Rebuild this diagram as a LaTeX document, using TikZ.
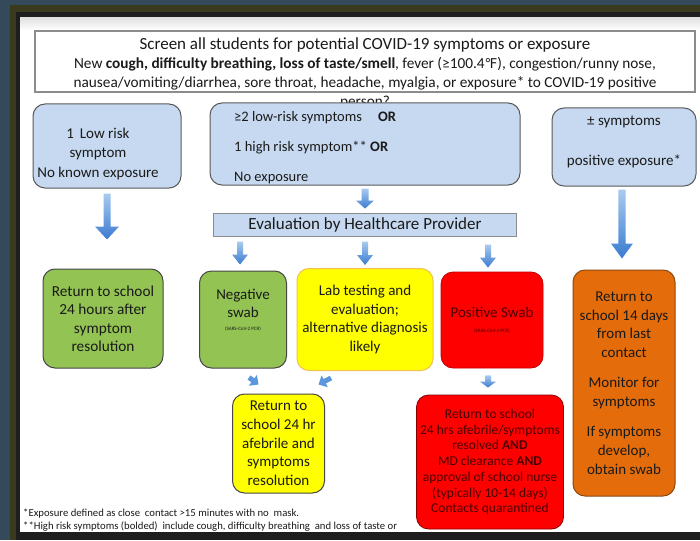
\documentclass[tikz,border=0pt]{standalone}
\usepackage{fontspec}
\setmainfont{Carlito}
\newfontfamily\dejavu{DejaVu Sans}
\usetikzlibrary{calc,arrows.meta}
\definecolor{slate}{HTML}{34495A}
\definecolor{olivef}{HTML}{3A3A1E}
\definecolor{blackf}{HTML}{1E1E1E}
\definecolor{lblue}{HTML}{C6D9F0}
\definecolor{bgray}{HTML}{595959}
\definecolor{tgray}{HTML}{8C8C8C}
\definecolor{gfill}{HTML}{92C353}
\definecolor{yfill}{HTML}{FFFF00}
\definecolor{ybord}{HTML}{F2C14E}
\definecolor{rfill}{HTML}{FF0000}
\definecolor{rbord}{HTML}{C00000}
\definecolor{rtext}{HTML}{4A0000}
\definecolor{ofill}{HTML}{E46C0A}
\definecolor{obord}{HTML}{8A4A12}
\definecolor{abtop}{HTML}{A9CBF0}
\definecolor{abbot}{HTML}{3A7BD0}
\definecolor{abmid}{HTML}{5B96DE}
\definecolor{txt}{HTML}{1A1A1A}
\newcommand\fsz[2]{\fontsize{#1}{#2}\selectfont}
% vertical block arrow: start, tip, shaft half width, head half width, head length
\newcommand\varrow[5]{\shade[top color=abtop,bottom color=abbot] let \p1=#1, \p2=#2 in
  (\x1-#3,\y1) -- (\x1+#3,\y1) -- (\x1+#3,\y2+#5) -- (\x1+#4,\y2+#5) -- (\x1,\y2)
  -- (\x1-#4,\y2+#5) -- (\x1-#3,\y2+#5) -- cycle;}
\begin{document}
\begin{tikzpicture}[x=1pt,y=-1pt,
  every node/.style={text=txt},
  bluebox/.style={draw=bgray, line width=1pt, fill=lblue, rounded corners=12pt, inner sep=0pt},
  greenbox/.style={draw=bgray!80!black, line width=1pt, fill=gfill, rounded corners=12pt, inner sep=0pt, align=center},
  yellowbox/.style={draw=ybord, line width=1pt, fill=yfill, rounded corners=12pt, inner sep=0pt, align=center},
  redbox/.style={draw=rbord, line width=0.8pt, fill=rfill, rounded corners=12pt, inner sep=0pt, align=center},
  orangebox/.style={draw=obord, line width=1pt, fill=ofill, rounded corners=12pt, inner sep=0pt, align=center},
  smallarrow/.style={line width=5pt, draw=abmid, -{Triangle[width=13pt,length=7pt]}, shorten >=0pt}]
% frame and background
\useasboundingbox (0,0) rectangle (700,540);
\fill[slate] (0,0) rectangle (700,540);
\fill[olivef] (10,5) rectangle (700,540);
\fill[blackf] (16,12) rectangle (700,540);
\fill[white] (20,18) rectangle (700,532);
\shade[top color=black!12, bottom color=white] (20,18) rectangle (700,30);
% top box
\node[draw=tgray, line width=1.5pt, minimum width=660pt, minimum height=61pt, inner sep=0pt] (top) at (365,61.5) {};
\node[align=center, inner sep=0pt, anchor=north, font=\fsz{15.3}{19.3}] (toptext) at (365,37)
 {{\fsz{17}{19.3}Screen all students for potential COVID-19 symptoms or exposure}\\
  New \textbf{cough, difficulty breathing, loss of taste/smell}, fever (≥100.4{\dejavu\fsz{13.5}{19}℉}), congestion/runny nose,\\
  nausea/vomiting/diarrhea, sore throat, headache, myalgia, or exposure* to COVID-19 positive\\
  person?};
% row 2
\node[bluebox, minimum width=148pt, minimum height=84pt] (A) at (107,146) {};
\node[align=center, inner sep=0pt, font=\fsz{15}{19.5}] (At) at (98,154) {1\, Low risk\\symptom\\No known exposure};
\node[bluebox, minimum width=310pt, minimum height=82pt] (B) at (365,144) {};
\node[align=left, inner sep=0pt, anchor=west, font=\fsz{14.5}{30}] (Bt) at (234,147.5)
 {≥2 low-risk symptoms\hspace{1.1em}\textbf{OR}\\1 high risk symptom** \textbf{OR}\\No exposure};
\node[bluebox, minimum width=144pt, minimum height=78pt] (C) at (624,147) {};
\node[align=center, inner sep=0pt, font=\fsz{15}{40}] (Ct) at (624,142) {± symptoms\\positive exposure*};
% evaluation
\node[draw=tgray, line width=1pt, fill=lblue, minimum width=303pt, minimum height=23pt, inner sep=0pt, font=\fsz{17}{18}] (E) at (365,224.5)
 {Evaluation by Healthcare Provider};
% row 3
\node[greenbox, minimum width=120pt, minimum height=99pt, font=\fsz{15.3}{18.5}] (G1) at (103,318.5)
 {Return to school\\24 hours after\\symptom\\resolution};
\node[greenbox, minimum width=87pt, minimum height=97pt] (G2) at (243,319.5) {};
\node[align=center, inner sep=0pt, font=\fsz{15}{18}] (G2t) at (243,310)
 {Negative\\swab\\[-5pt]{\fsz{5}{6}(SARS-CoV-2 PCR)}};
\node[yellowbox, minimum width=136pt, minimum height=102pt, font=\fsz{15}{18.5}] (Y1) at (365,319.5)
 {Lab testing and\\evaluation;\\alternative diagnosis\\likely};
\node[redbox, minimum width=102pt, minimum height=96pt, font=\fsz{15}{15}, text=rtext] (R1) at (492,320)
 {Positive Swab\\{\fsz{5}{6}(SARS-CoV-2 PCR)}};
\node[orangebox, minimum width=102pt, minimum height=226pt, font=\fsz{15}{18.7}] (O) at (624,383)
 {Return to\\school 14 days\\from last\\contact\\[11.5pt]Monitor for\\symptoms\\[11.5pt]If symptoms\\develop,\\obtain swab};
% row 4
\node[yellowbox, draw=bgray!80!black, minimum width=92pt, minimum height=99pt, font=\fsz{15}{18.7}] (Y2) at (278.5,443.5)
 {Return to\\school 24 hr\\afebrile and\\symptoms\\resolution};
\node[redbox, draw=rbord!70!black, minimum width=147pt, minimum height=134pt, font=\fsz{13.5}{15.7}, text=rtext] (R2) at (490,462)
 {Return to school\\24 hrs afebrile/symptoms\\resolved \textbf{AND}\\MD clearance \textbf{AND}\\approval of school nurse\\(typically 10-14 days)\\Contacts quarantined};
% footnotes
\node[anchor=west, inner sep=0pt, font=\fsz{10.7}{12}] (f1) at (23,514) {*Exposure defined as close\ \ contact >15 minutes with no\ \ mask.};
\node[anchor=west, inner sep=0pt, font=\fsz{10.7}{12}] (f2) at (23,526.5) {**High risk symptoms (bolded)\ \ include cough, difficulty breathing\ \ and loss of taste or};
% arrows
\varrow{($(A.south)+(0,5)$)}{($(G1.north)+(0,-29)$)}{3.5pt}{12pt}{13pt}
\varrow{($(B.south)+(0,3)$)}{($(E.north)+(0,-4)$)}{3.5pt}{9pt}{8pt}
\varrow{($(C.south)+(-2,3)$)}{($(O.north)+(0,-11)$)}{3.7pt}{11pt}{15pt}
\varrow{($(E.south)+(-125,5)$)}{($(G2.north)+(0,-6)$)}{3pt}{8pt}{10pt}
\varrow{($(E.south)+(0,5)$)}{($(Y1.north)+(0,-3)$)}{3pt}{8pt}{10pt}
\varrow{($(E.south)+(123,8)$)}{($(R1.north)+(0,-4)$)}{3pt}{8pt}{10pt}
\varrow{($(R1.south)+(-4,7)$)}{($(R2.north)+(0,-7)$)}{3pt}{8pt}{6pt}
\draw[smallarrow] ($(G2.south)+(6,9)$) -- ($(Y2.north)+(-20,-9)$);
\draw[smallarrow] ($(Y1.south)+(-34,7)$) -- ($(Y2.north)+(40,-9)$);
\end{tikzpicture}
\end{document}
